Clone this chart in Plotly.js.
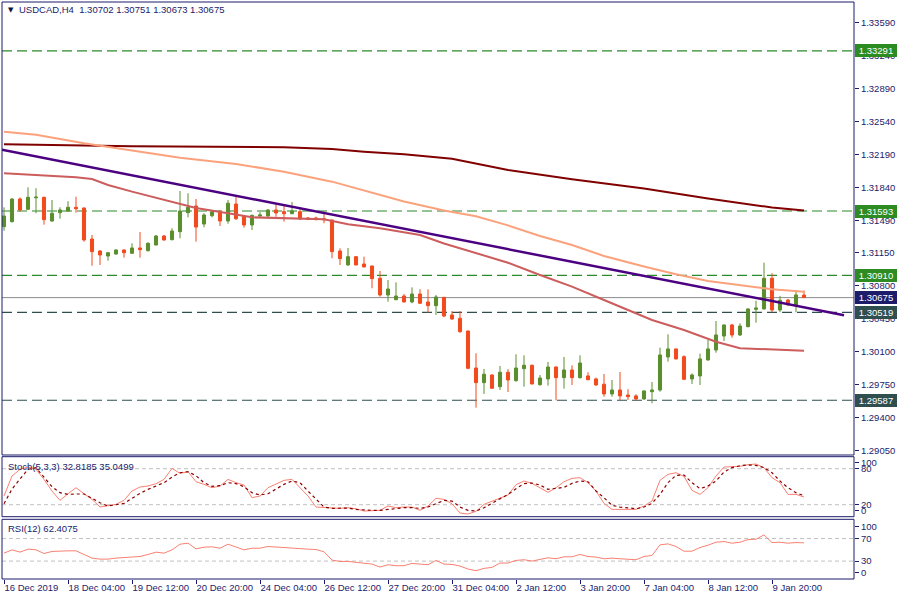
<!DOCTYPE html>
<html>
<head>
<meta charset="utf-8">
<script src="https://cdn.plot.ly/plotly-3.0.1.min.js"></script>
<style>
html,body{margin:0;padding:0;background:#ffffff;}
#chart{width:900px;height:600px;}
</style>
</head>
<body>
<div id="chart"></div>
<script>
// ---------------- DATA ----------------
const symbolTitle = "USDCAD,H4  1.30702 1.30751 1.30673 1.30675";
const stochTitle = "Stoch(5,3,3) 32.8185 35.0499";
const rsiTitle = "RSI(12) 62.4075";

const tickBars = [0, 8, 16, 24, 32, 40, 48, 56, 64, 72, 80, 88, 96];
const tickLabels = ["16 Dec 2019", "18 Dec 04:00", "19 Dec 12:00", "20 Dec 20:00", "24 Dec 04:00",
  "26 Dec 12:00", "27 Dec 20:00", "31 Dec 04:00", "2 Jan 12:00", "3 Jan 20:00", "7 Jan 04:00",
  "8 Jan 12:00", "9 Jan 20:00"];

const priceTicks = [1.33590, 1.33240, 1.32890, 1.32540, 1.32190, 1.31840, 1.31490, 1.31150,
  1.30800, 1.30450, 1.30100, 1.29750, 1.29400, 1.29050];

const open = [
1.31427, 1.31480, 1.31720, 1.31611, 1.31733, 1.31738, 1.31487, 1.31575, 1.31593, 1.31632,
1.31625, 1.31296, 1.31169, 1.31116, 1.31137, 1.31180, 1.31145, 1.31201, 1.31172, 1.31233,
1.31328, 1.31289, 1.31374, 1.31575, 1.31646, 1.31455, 1.31543, 1.31579, 1.31487, 1.31667,
1.31537, 1.31445, 1.31540, 1.31540, 1.31604, 1.31586, 1.31564, 1.31586, 1.31519, 1.31519,
1.31511, 1.31498, 1.31169, 1.31021, 1.31109, 1.31031, 1.31010, 1.30880, 1.30703, 1.30653,
1.30692, 1.30629, 1.30713, 1.30629, 1.30590, 1.30678, 1.30491, 1.30456, 1.30321, 1.29929,
1.29774, 1.29855, 1.29731, 1.29884, 1.29795, 1.29922, 1.29958, 1.29752, 1.29813, 1.29940,
1.29827, 1.29908, 1.29827, 1.29845, 1.29813, 1.29757, 1.29654, 1.29696, 1.29643, 1.29633,
1.29601, 1.29678, 1.29696, 1.30046, 1.30131, 1.30049, 1.29813, 1.29845, 1.30014, 1.30120,
1.30268, 1.30385, 1.30279, 1.30367, 1.30551, 1.30555, 1.30880, 1.30544, 1.30650, 1.30597,
1.30702];
const high = [
1.31632, 1.31728, 1.31738, 1.31844, 1.31834, 1.31745, 1.31710, 1.31632, 1.31696, 1.31745,
1.31630, 1.31339, 1.31180, 1.31159, 1.31187, 1.31187, 1.31251, 1.31370, 1.31261, 1.31339,
1.31339, 1.31410, 1.31805, 1.31781, 1.31720, 1.31569, 1.31604, 1.31604, 1.31710, 1.31763,
1.31540, 1.31554, 1.31582, 1.31611, 1.31675, 1.31657, 1.31688, 1.31632, 1.31529, 1.31533,
1.31586, 1.31502, 1.31198, 1.31201, 1.31112, 1.31109, 1.31014, 1.30957, 1.30862, 1.30837,
1.30713, 1.30784, 1.30763, 1.30763, 1.30703, 1.30682, 1.30533, 1.30533, 1.30325, 1.30085,
1.29919, 1.29862, 1.29951, 1.29916, 1.30074, 1.30064, 1.29965, 1.29855, 1.29993, 1.29945,
1.30046, 1.29958, 1.30064, 1.29884, 1.29827, 1.29866, 1.29802, 1.29887, 1.29704, 1.29651,
1.29690, 1.29781, 1.30144, 1.30286, 1.30135, 1.30064, 1.29873, 1.30081, 1.30226, 1.30427,
1.30390, 1.30396, 1.30403, 1.30560, 1.30642, 1.31045, 1.30933, 1.30692, 1.30660, 1.30756,
1.30751];
const low = [
1.31384, 1.31471, 1.31586, 1.31605, 1.31569, 1.31448, 1.31480, 1.31511, 1.31586, 1.31575,
1.31268, 1.31013, 1.31021, 1.31066, 1.31130, 1.31098, 1.31140, 1.31098, 1.31165, 1.31228,
1.31278, 1.31282, 1.31304, 1.31526, 1.31268, 1.31420, 1.31526, 1.31434, 1.31458, 1.31498,
1.31416, 1.31392, 1.31533, 1.31533, 1.31533, 1.31480, 1.31561, 1.31498, 1.31498, 1.31498,
1.31463, 1.31092, 1.31021, 1.31013, 1.31018, 1.30996, 1.30774, 1.30685, 1.30632, 1.30648,
1.30625, 1.30615, 1.30608, 1.30515, 1.30491, 1.30467, 1.30438, 1.30303, 1.29916, 1.29509,
1.29654, 1.29707, 1.29696, 1.29675, 1.29784, 1.29731, 1.29755, 1.29742, 1.29742, 1.29587,
1.29710, 1.29749, 1.29816, 1.29799, 1.29742, 1.29625, 1.29625, 1.29590, 1.29590, 1.29587,
1.29590, 1.29555, 1.29678, 1.29996, 1.30020, 1.29802, 1.29760, 1.29749, 1.30007, 1.30091,
1.30215, 1.30250, 1.30268, 1.30361, 1.30409, 1.30550, 1.30520, 1.30520, 1.30594, 1.30520,
1.30673];
const close = [
1.31540, 1.31720, 1.31604, 1.31738, 1.31740, 1.31501, 1.31569, 1.31604, 1.31632, 1.31617,
1.31286, 1.31162, 1.31127, 1.31151, 1.31180, 1.31151, 1.31201, 1.31183, 1.31251, 1.31328,
1.31286, 1.31381, 1.31593, 1.31632, 1.31423, 1.31551, 1.31586, 1.31487, 1.31675, 1.31511,
1.31445, 1.31547, 1.31551, 1.31604, 1.31572, 1.31564, 1.31593, 1.31508, 1.31505, 1.31501,
1.31501, 1.31162, 1.31088, 1.31109, 1.31021, 1.31000, 1.30876, 1.30703, 1.30766, 1.30692,
1.30629, 1.30713, 1.30615, 1.30590, 1.30682, 1.30480, 1.30449, 1.30314, 1.29926, 1.29774,
1.29863, 1.29714, 1.29884, 1.29802, 1.29929, 1.29958, 1.29760, 1.29823, 1.29940, 1.29827,
1.29908, 1.29827, 1.29982, 1.29805, 1.29749, 1.29654, 1.29696, 1.29633, 1.29625, 1.29601,
1.29686, 1.29696, 1.30067, 1.30131, 1.30025, 1.29809, 1.29855, 1.30025, 1.30131, 1.30279,
1.30385, 1.30279, 1.30374, 1.30555, 1.30565, 1.30880, 1.30544, 1.30647, 1.30597, 1.30703,
1.30675];

// moving averages (sampled at bar positions)
const maSlowBars = [0, 10, 16, 35, 41, 45, 50, 56, 63, 71, 80, 88, 96, 100];
const maSlow = [1.32300, 1.32289, 1.32279, 1.32268, 1.32250, 1.32221, 1.32194, 1.32147, 1.32028,
  1.31929, 1.31831, 1.31725, 1.31630, 1.31598];
const maMidBars = [0, 4, 10, 16, 22, 29, 35, 41, 47, 50, 55, 59, 63, 67, 71, 75, 80, 84, 88, 92, 96, 100];
const maMid = [1.32433, 1.32402, 1.32310, 1.32232, 1.32158, 1.32091, 1.32010, 1.31904, 1.31763,
  1.31694, 1.31598, 1.31537, 1.31441, 1.31328, 1.31233, 1.31116, 1.31005, 1.30922, 1.30851,
  1.30806, 1.30763, 1.30738];
const maFastBars = [0, 9, 11, 13, 16, 20, 24, 28, 31, 40, 43, 47, 52, 55, 59, 63, 67, 71, 75, 81, 85, 89, 92, 97, 100];
const maFast = [1.31992, 1.31950, 1.31932, 1.31869, 1.31798, 1.31715, 1.31625, 1.31569, 1.31526,
  1.31505, 1.31452, 1.31410, 1.31339, 1.31249, 1.31151, 1.31045, 1.30915, 1.30791, 1.30650,
  1.30438, 1.30332, 1.30208, 1.30138, 1.30120, 1.30113];

// trend line anchors
const trendBars = [-0.25, 105];
const trendPrices = [1.32241, 1.30489];

// horizontal levels
const levelPrices = [1.33291, 1.31593, 1.30910, 1.30519, 1.29587];
const levelKinds = ["res", "res", "res", "sup", "sup"];
const currentPrice = 1.30675;

// stochastic (5,3,3)
const stochK = [34.5, 67.8, 78.9, 82.8, 78.9, 62.2, 42.8, 27.2, 38.3, 48.3,
38.3, 28.9, 16.1, 17.8, 20.6, 27.2, 42.8, 49.5, 51.1, 55.0,
62.2, 80.6, 72.2, 75.0, 58.3, 53.9, 48.3, 51.1, 62.2, 56.7,
52.8, 31.7, 34.5, 48.3, 55.0, 60.6, 62.2, 48.3, 34.5, 16.1,
15.0, 13.9, 13.9, 15.0, 13.3, 9.4, 9.4, 10.6, 17.8, 15.0,
16.1, 16.1, 10.6, 17.8, 30.6, 28.9, 21.7, 6.1, 4.4, 8.9,
20.6, 25.6, 30.0, 36.1, 53.3, 59.5, 55.6, 48.3, 40.6, 48.3,
58.3, 63.9, 65.0, 56.7, 42.8, 22.2, 12.2, 12.2, 12.2, 12.2,
17.8, 26.1, 60.6, 70.6, 73.3, 67.2, 43.9, 37.2, 48.3, 67.8,
82.8, 82.8, 83.9, 86.7, 87.8, 81.7, 65.0, 56.7, 37.2, 37.2,
32.82];
const stochD = [21.7, 46.1, 62.8, 78.9, 81.7, 66.7, 50.0, 40.0, 37.2, 37.8,
37.8, 30.6, 23.3, 17.8, 19.5, 22.2, 30.6, 38.9, 45.6, 50.6,
56.7, 66.1, 73.3, 75.0, 68.3, 56.7, 50.6, 51.7, 56.7, 55.0,
50.0, 40.0, 36.1, 38.3, 45.6, 53.9, 59.5, 56.7, 42.8, 28.9,
16.1, 13.9, 14.5, 14.5, 12.2, 11.1, 10.6, 10.6, 12.2, 14.5,
15.0, 15.0, 13.9, 16.1, 21.7, 27.2, 26.1, 16.1, 10.6, 9.4,
15.0, 22.2, 30.0, 37.2, 46.7, 55.0, 56.1, 52.8, 45.6, 47.2,
48.9, 55.6, 59.5, 58.3, 42.8, 31.7, 18.9, 16.1, 14.5, 13.3,
16.1, 22.2, 37.2, 56.7, 68.9, 69.5, 56.7, 46.7, 51.1, 59.5,
74.5, 81.7, 85.0, 86.1, 85.6, 81.7, 73.3, 59.5, 48.3, 40.0,
35.05];

// RSI(12)
const rsi = [44.1, 50.0, 45.9, 51.2, 50.0, 43.5, 47.1, 48.2, 48.2, 48.2,
41.2, 35.3, 33.5, 33.5, 35.3, 36.5, 37.1, 38.2, 41.8, 45.9,
44.1, 50.0, 60.0, 61.8, 51.8, 54.7, 55.3, 52.9, 60.0, 55.3,
50.0, 52.9, 52.9, 55.9, 54.7, 54.7, 53.5, 51.8, 51.2, 50.6,
46.5, 31.8, 29.4, 29.4, 28.2, 26.5, 24.7, 19.4, 23.5, 21.8,
21.8, 25.9, 24.7, 23.5, 31.2, 24.7, 24.1, 21.2, 15.9, 12.9,
17.1, 18.8, 26.5, 26.5, 31.2, 32.4, 30.0, 32.4, 35.9, 34.1,
37.6, 37.6, 41.8, 38.2, 37.1, 34.1, 35.3, 34.1, 33.5, 32.4,
38.2, 40.0, 58.8, 60.6, 55.9, 47.6, 47.6, 54.1, 58.2, 63.5,
64.7, 61.8, 63.5, 68.2, 68.8, 76.5, 62.9, 63.5, 61.8, 62.9,
62.41];

// ---------------- STYLE / LAYOUT ----------------
const bars = open.map((_, i) => i);
const W = 900, H = 600, ML = 2, MR = 46, MT = 2, MB = 21;
const plotW = W - ML - MR, plotH = H - MT - MB;
const py = (ypx) => (H - MB - ypx) / plotH;
const pxp = (xpx) => (xpx - ML) / plotW;

const NAVY = "#1b1b6b";
const FONT = "Liberation Sans, Arial, sans-serif";
const GREEN = "#5a8e2c", RED = "#f24a1d";
const RES_COLOR = "#2b8a2b", SUP_COLOR = "#2f4f4f";
const RES_BOX = "#2c8c22", SUP_BOX = "#2f4f4f", CUR_BOX = "#1c1c6b";

const mainDom = [py(455), 1];
const stochDom = [py(516.7), py(456.7)];
const rsiDom = [0, py(519.3)];

const traces = [
  {
    type: "candlestick", x: bars, open: open, high: high, low: low, close: close,
    xaxis: "x", yaxis: "y",
    increasing: { line: { color: GREEN, width: 1 }, fillcolor: GREEN },
    decreasing: { line: { color: RED, width: 1 }, fillcolor: RED },
    whiskerwidth: 0, hoverinfo: "skip", showlegend: false
  },
  { type: "scatter", mode: "lines", x: maSlowBars, y: maSlow, xaxis: "x", yaxis: "y",
    line: { color: "#800000", width: 2 }, hoverinfo: "skip", showlegend: false },
  { type: "scatter", mode: "lines", x: maMidBars, y: maMid, xaxis: "x", yaxis: "y",
    line: { color: "#fba27c", width: 2 }, hoverinfo: "skip", showlegend: false },
  { type: "scatter", mode: "lines", x: maFastBars, y: maFast, xaxis: "x", yaxis: "y",
    line: { color: "#cd5c5c", width: 2 }, hoverinfo: "skip", showlegend: false },
  { type: "scatter", mode: "lines", x: trendBars, y: trendPrices, xaxis: "x", yaxis: "y",
    line: { color: "#4b0082", width: 2.5 }, hoverinfo: "skip", showlegend: false },
  { type: "scatter", mode: "lines", x: bars, y: stochK, xaxis: "x", yaxis: "y2",
    line: { color: "#fa8072", width: 1 }, hoverinfo: "skip", showlegend: false },
  { type: "scatter", mode: "lines", x: bars, y: stochD, xaxis: "x", yaxis: "y2",
    line: { color: "#8b0000", width: 1.2, dash: "3px,3px" }, hoverinfo: "skip", showlegend: false },
  { type: "scatter", mode: "lines", x: bars, y: rsi, xaxis: "x", yaxis: "y3",
    line: { color: "#fa8072", width: 1 }, hoverinfo: "skip", showlegend: false }
];

const shapes = [];
levelPrices.forEach((p, i) => {
  shapes.push({ type: "line", xref: "paper", x0: 0, x1: 1, yref: "y", y0: p, y1: p, layer: "below",
    line: { color: levelKinds[i] === "res" ? RES_COLOR : SUP_COLOR, width: 1.2, dash: "10px,5px" } });
});
shapes.push({ type: "line", xref: "paper", x0: 0, x1: 1, yref: "y", y0: currentPrice, y1: currentPrice,
  layer: "below", line: { color: "#8c8c8c", width: 1 } });
[[80, "y2"], [20, "y2"], [70, "y3"], [30, "y3"]].forEach(([v, ax]) => {
  shapes.push({ type: "line", xref: "paper", x0: 0, x1: 1, yref: ax, y0: v, y1: v, layer: "below",
    line: { color: "#c0c0c0", width: 1, dash: "4px,3px" } });
});
[mainDom, stochDom, rsiDom].forEach(d => {
  shapes.push({ type: "rect", xref: "paper", yref: "paper", x0: 0, x1: 1, y0: d[0], y1: d[1],
    layer: "above", line: { color: NAVY, width: 1 }, fillcolor: "rgba(0,0,0,0)" });
});

const annotations = [];
function priceBox(p, color) {
  annotations.push({ xref: "paper", x: 1, xanchor: "left", xshift: 1, yref: "y", y: p, yanchor: "middle",
    text: p.toFixed(5), showarrow: false, font: { family: FONT, size: 9.5, color: "#ffffff" },
    bgcolor: color, bordercolor: color, borderwidth: 1, borderpad: 1, width: 38, height: 9, align: "center" });
}
levelPrices.forEach((p, i) => priceBox(p, levelKinds[i] === "res" ? RES_BOX : SUP_BOX));
priceBox(currentPrice, CUR_BOX);

annotations.push({ xref: "paper", yref: "paper", x: pxp(6), y: py(10), xanchor: "left", yanchor: "middle",
  text: "▼", showarrow: false, font: { family: "DejaVu Sans", size: 7, color: "#101040" } });
annotations.push({ xref: "paper", yref: "paper", x: pxp(17), y: py(10), xanchor: "left", yanchor: "middle",
  text: symbolTitle.replace("  ", "&nbsp;&nbsp;"), showarrow: false, font: { family: FONT, size: 9.5, color: NAVY } });
annotations.push({ xref: "paper", yref: "paper", x: pxp(6), y: py(466), xanchor: "left", yanchor: "middle",
  text: stochTitle, showarrow: false, font: { family: FONT, size: 9.5, color: NAVY } });
annotations.push({ xref: "paper", yref: "paper", x: pxp(6), y: py(528), xanchor: "left", yanchor: "middle",
  text: rsiTitle, showarrow: false, font: { family: FONT, size: 9.5, color: NAVY } });

const tickFont = { family: FONT, size: 9.5, color: NAVY };
const layout = {
  width: W, height: H,
  margin: { l: ML, r: MR, t: MT, b: MB, pad: 0 },
  paper_bgcolor: "#ffffff", plot_bgcolor: "#ffffff",
  showlegend: false, hovermode: false,
  boxgap: 0.45,
  xaxis: {
    range: [-0.25, 106.25], anchor: "y3", showgrid: false, zeroline: false, showline: false,
    tickmode: "array", tickvals: tickBars, ticktext: tickLabels, tickangle: 0,
    ticks: "outside", ticklen: 4, tickcolor: NAVY, tickfont: tickFont,
    ticklabelposition: "outside right",
    rangeslider: { visible: false }, fixedrange: true
  },
  yaxis: {
    domain: mainDom, anchor: "x", side: "right", range: [1.29007, 1.33808],
    showgrid: false, zeroline: false, showline: false,
    tickmode: "array", tickvals: priceTicks, ticktext: priceTicks.map(v => v.toFixed(5)),
    ticks: "outside", ticklen: 4, tickcolor: NAVY, tickfont: tickFont, fixedrange: true
  },
  yaxis2: {
    domain: stochDom, anchor: "x", side: "right", range: [0, 100],
    showgrid: false, zeroline: false, showline: false,
    tickmode: "array", tickvals: [10, 20, 80, 90], ticktext: ["0", "20", "80", "100"],
    ticks: "outside", ticklen: 4, tickcolor: NAVY, tickfont: tickFont, fixedrange: true
  },
  yaxis3: {
    domain: rsiDom, anchor: "x", side: "right", range: [-1.8, 104.2],
    showgrid: false, zeroline: false, showline: false,
    tickmode: "array", tickvals: [9.9, 30, 70, 91.2], ticktext: ["0", "30", "70", "100"],
    ticks: "outside", ticklen: 4, tickcolor: NAVY, tickfont: tickFont, fixedrange: true
  },
  shapes: shapes,
  annotations: annotations
};

Plotly.newPlot("chart", traces, layout, { staticPlot: true, displayModeBar: false });
</script>
</body>
</html>
